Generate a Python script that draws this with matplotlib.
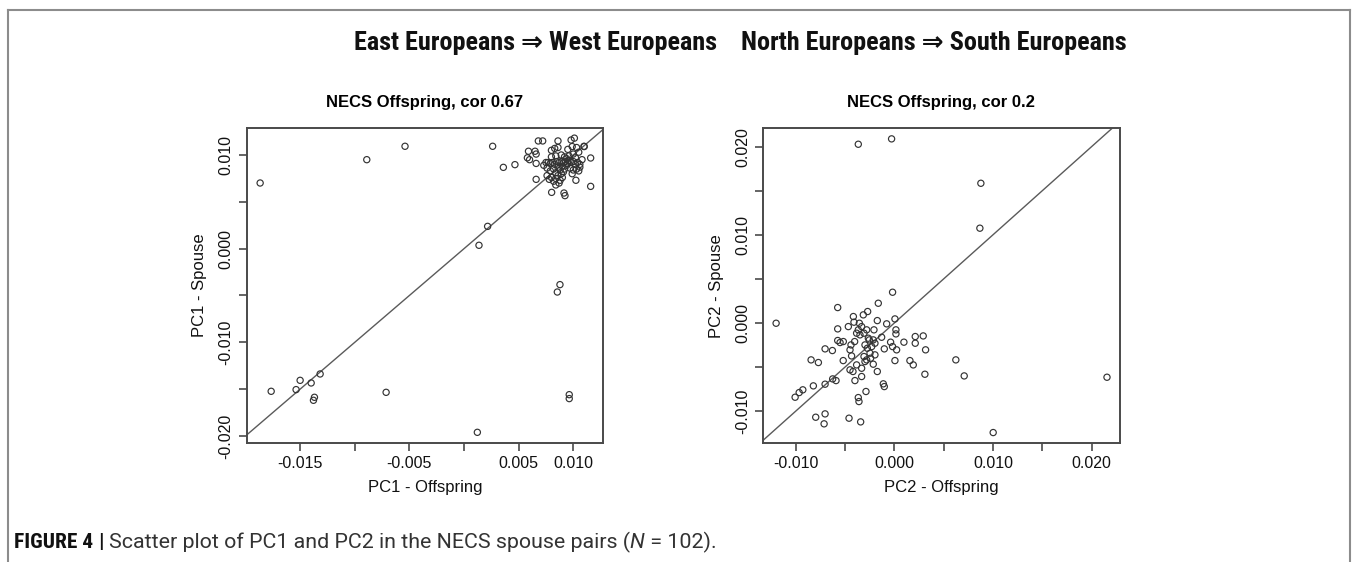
import numpy as np
import matplotlib
matplotlib.use("Agg")
import matplotlib.pyplot as plt
from matplotlib import font_manager

# PC1: offspring vs spouse (x1e-3)
pc1_offspring = [
    -18.66, -8.90, -5.40, 2.62, 3.60, 4.66, 2.16, 1.37, 8.78, 8.54,
    -17.65, -15.00, -15.37, -13.99, -13.17, -13.69, -13.78, -7.13, 1.22, 9.63,
    9.63, 9.15, 9.24, 8.02, 11.59, 11.59, 10.24, 10.98,
    6.8, 7.2, 8.6, 9.8, 10.1, 11.0,
    5.9, 6.5, 5.8, 6.0, 6.6, 6.6, 6.6,
    8.0, 8.3, 8.6, 9.5, 9.9, 10.3, 10.5,
    7.5, 7.7, 7.9, 8.1, 8.3, 8.5, 8.7, 8.9, 9.1, 9.3, 9.5, 9.6, 9.8, 10.0, 10.2, 10.4, 10.6,
    7.6, 7.9, 8.2, 8.4, 8.6, 8.8, 9.0, 9.2, 9.4, 9.7, 10.0, 10.3, 10.5,
    7.6, 7.8, 8.0, 8.2, 8.4, 8.6, 8.8, 9.0, 8.4, 8.7,
    8.0, 8.4, 8.9, 9.2, 9.6, 10.0, 10.2, 9.9, 10.6, 8.9,
    9.4, 9.1, 7.3, 10.8,
]
pc1_spouse = [
    7.01, 9.50, 10.93, 10.93, 8.68, 8.97, 2.38, 0.36, -3.84, -4.63,
    -15.23, -14.06, -15.05, -14.34, -13.38, -15.87, -16.19, -15.34, -19.61, -15.59,
    -16.01, 5.94, 5.66, 6.01, 6.65, 9.68, 7.30, 10.93,
    11.5, 11.5, 11.5, 11.6, 11.8, 10.9,
    10.4, 10.4, 9.7, 9.5, 10.1, 9.1, 7.4,
    10.5, 10.7, 10.8, 10.6, 10.9, 10.8, 10.3,
    9.2, 9.2, 9.1, 9.2, 9.0, 9.3, 9.2, 9.3, 9.2, 9.3, 9.1, 9.4, 9.2, 9.3, 9.0, 9.2, 9.0,
    8.6, 8.3, 8.5, 8.1, 8.7, 8.4, 8.8, 8.5, 8.9, 8.6, 8.4, 8.5, 8.3,
    7.8, 7.4, 7.6, 7.2, 7.5, 7.8, 7.3, 7.6, 6.8, 7.0,
    9.8, 9.9, 10.0, 9.8, 9.9, 10.1, 9.7, 8.0, 8.7, 8.0,
    9.6, 8.2, 8.9, 9.5,
]

# PC2: offspring vs spouse (x1e-3)
pc2_offspring = [
    -3.67, -0.29, 8.77, 8.67, -12.01, 21.57, 10.02, 6.23, 7.08, 3.16,
    2.92, 2.11, 2.11, 3.09, 1.57, 1.91, 0.96, 0.05, -0.19, 0.15,
    0.15, -0.39, -0.19, 0.22, 0.05, -0.79, -1.30, -1.64, -1.74, -1.03,
    -1.98, -2.08, -2.15, -1.74, -1.13, -1.03, -2.89, -2.72, -3.16, -2.55,
    -2.75, -2.48, -2.42, -2.99, -2.99, -3.33, -3.33, -3.67, -3.50, -3.56,
    -4.17, -4.11, -3.84, -4.04, -3.84, -4.01, -4.35, -4.21, -4.51, -5.20,
    -4.68, -5.19, -5.52, -5.76, -5.76, -5.76, -6.30, -7.04, -6.27, -5.93,
    -7.04, -8.46, -7.72, -8.23, -10.08, -9.67, -9.30, -7.99, -7.04, -7.14,
    -4.61, -3.43, -3.67, -3.60, -2.82, -2.65, -2.31, -1.98, -3.33, -3.09,
    -4.41, -4.51, -2.82, -3.09, -2.15,
]
pc2_spouse = [
    20.28, 20.89, 15.85, 10.75, -0.04, -6.17, -12.45, -4.20, -6.02, -3.06,
    -1.48, -1.55, -2.31, -5.83, -4.28, -4.77, -2.19, 0.45, 3.48, -0.79,
    -1.25, -2.19, -2.69, -3.06, -4.28, -0.11, -1.63, 2.23, 0.26, -2.95,
    -2.31, -0.79, -4.69, -5.52, -6.92, -7.23, -7.79, 1.29, 0.91, -1.93,
    -2.88, -3.44, -4.01, -2.50, -4.39, -5.15, -6.09, -0.79, -1.36, -0.04,
    0.72, 0.08, -1.17, -2.12, -4.77, -6.55, -3.75, -5.52, -5.33, -4.28,
    -0.42, -2.12, -2.23, -0.68, -2.00, 1.74, -3.14, -2.95, -6.36, -6.55,
    -6.96, -4.20, -4.50, -7.15, -8.44, -7.91, -7.60, -10.71, -10.33, -11.46,
    -10.82, -11.24, -8.48, -8.93, -0.79, -1.74, -2.69, -3.63, -0.42, -1.17,
    -2.50, -3.06, -4.20, -3.82, -1.93,
]

panels = [
    dict(x=pc1_offspring, y=pc1_spouse, title="NECS Offspring, cor 0.67",
         xlabel="PC1 - Offspring", ylabel="PC1 - Spouse",
         xlim=(-0.01989, 0.01272), ylim=(-0.02075, 0.01285),
         xticks=[-0.015, -0.010, -0.005, 0.0, 0.005, 0.010],
         xlabs=["-0.015", "", "-0.005", "", "0.005", "0.010"],
         yticks=[-0.020, -0.015, -0.010, -0.005, 0.0, 0.005, 0.010],
         ylabs=["-0.020", "", "-0.010", "", "0.000", "", "0.010"],
         rect=[246.7, 128.3, 603.0, 443.0]),
    dict(x=pc2_offspring, y=pc2_spouse, title="NECS Offspring, cor 0.2",
         xlabel="PC2 - Offspring", ylabel="PC2 - Spouse",
         xlim=(-0.01331, 0.02284), ylim=(-0.01367, 0.02209),
         xticks=[-0.010, -0.005, 0.0, 0.005, 0.010, 0.015, 0.020],
         xlabs=["-0.010", "", "0.000", "", "0.010", "", "0.020"],
         yticks=[-0.010, -0.005, 0.0, 0.005, 0.010, 0.015, 0.020],
         ylabs=["-0.010", "", "0.000", "", "0.010", "", "0.020"],
         rect=[763.3, 128.3, 1119.5, 443.3]),
]


def pick_font(cands):
    names = {f.name for f in font_manager.fontManager.ttflist}
    for c in cands:
        if c in names:
            return c
    return "DejaVu Sans"


sans = pick_font(["Liberation Sans", "Arimo", "DejaVu Sans"])
narrow = pick_font(["Liberation Sans Narrow", "Roboto Condensed", "Open Sans Condensed", "Roboto"])
capfont = pick_font(["Roboto", "Liberation Sans"])
plt.rcParams["font.family"] = [sans, "DejaVu Sans"]

W, H = 1357, 562
fig = plt.figure(figsize=(W / 100, H / 100), dpi=100)

axcol = "#4a4a4a"
for p in panels:
    l, t, r, b = p["rect"]
    ax = fig.add_axes([l / W, (H - b) / H, (r - l) / W, (b - t) / H])
    xs = np.array(p["x"]) / 1000
    ys = np.array(p["y"]) / 1000
    ax.scatter(xs, ys, s=20, facecolors="none", edgecolors="#333333", linewidths=0.85, zorder=3)
    ax.axline((0, 0), slope=1, color="#5a5a5a", lw=1.0, zorder=2)
    ax.set_xlim(*p["xlim"])
    ax.set_ylim(*p["ylim"])
    ax.set_xticks(p["xticks"])
    ax.set_xticklabels(p["xlabs"])
    ax.set_yticks(p["yticks"])
    ax.set_yticklabels(p["ylabs"], rotation=90, va="center")
    for s in ax.spines.values():
        s.set_color(axcol)
        s.set_linewidth(1.4)
    ax.tick_params(length=5.5, width=1.2, color=axcol, labelsize=11.5, pad=4, labelcolor="#111111")
    ax.set_xlabel(p["xlabel"], fontsize=12, labelpad=6, color="#111111")
    ax.set_ylabel(p["ylabel"], fontsize=12, labelpad=8, color="#111111")
    ax.set_title(p["title"], fontsize=12, fontweight="bold", pad=15)

# header line
head = fig.text(740 / W, 1 - 43 / H, "East Europeans \u21d2 West Europeans    North Europeans \u21d2 South Europeans",
                ha="center", va="center", fontsize=20, fontweight="bold",
                family=[narrow, "DejaVu Sans"], color="#111111")
fig.canvas.draw()
rend = fig.canvas.get_renderer()
bb = head.get_window_extent(rend)
head.set_fontsize(20 * 776 / bb.width)

# caption, laid out piece by piece, then scaled to its width in the picture
cap_y = 1 - 542 / H
pieces = [("FIGURE 4", "bold", "normal", "#111111", narrow), ("|", "bold", "normal", "#111111", narrow),
          ("Scatter plot of PC1 and PC2 in the NECS spouse pairs (", "normal", "normal", "#333333", capfont),
          ("N", "normal", "italic", "#333333", capfont), (" = 102).", "normal", "normal", "#333333", capfont)]


def lay_caption(size):
    arts = []
    x_now = 14
    for i, (txt, wt, st, col, fam) in enumerate(pieces):
        tt = fig.text(x_now / W, cap_y, txt, ha="left", va="center", fontsize=size, fontweight=wt,
                      fontstyle=st, family=[fam, "DejaVu Sans"], color=col)
        fig.canvas.draw()
        arts.append(tt)
        gap = 4 if i in (0, 1) else 0
        x_now = tt.get_window_extent(rend).x1 + gap * size / 12
    return arts, x_now


arts, end = lay_caption(12)
for a in arts:
    a.remove()
arts, end = lay_caption(12 * (713 - 14) / (end - 14))

# outer frame of the figure panel
frame = dict(color="#8c8c8c", lw=1.5, transform=fig.transFigure)
fig.add_artist(plt.Line2D([8 / W, 1350 / W], [1 - 10 / H, 1 - 10 / H], **frame))
fig.add_artist(plt.Line2D([8 / W, 8 / W], [0, 1 - 10 / H], **frame))
fig.add_artist(plt.Line2D([1350 / W, 1350 / W], [0, 1 - 10 / H], **frame))

fig.savefig("out.png", dpi=100)
